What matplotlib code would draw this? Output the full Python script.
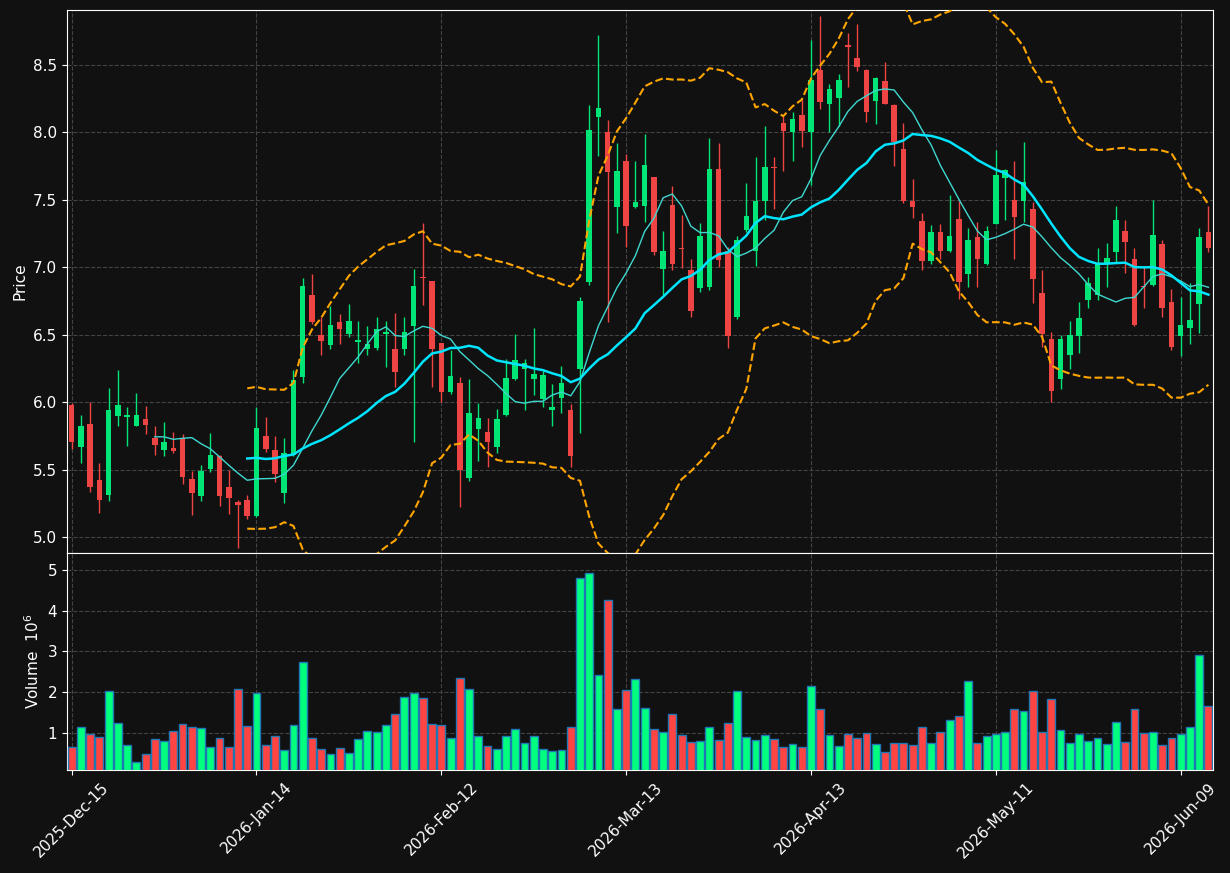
import numpy as np
import pandas as pd
import matplotlib
matplotlib.use("Agg")
import matplotlib.pyplot as plt

# daily OHLC
opens = [5.98, 5.67, 5.84, 5.42, 5.313, 5.90, 5.886, 5.826, 5.876, 5.734,
         5.648, 5.66, 5.737, 5.429, 5.305, 5.505, 5.601, 5.371, 5.26, 5.275,
         5.158, 5.75, 5.646, 5.327, 5.604, 6.188, 6.797, 6.498, 6.421, 6.597,
         6.507, 6.448, 6.396, 6.401, 6.507, 6.394, 6.394, 6.564, 6.928, 6.899,
         6.438, 6.074, 6.141, 5.438, 5.802, 5.777, 5.668, 5.906, 6.173, 6.248,
         6.173, 6.025, 5.943, 6.032, 5.941, 6.248, 6.892, 8.117, 8.003, 7.449,
         7.788, 7.449, 7.456, 7.669, 6.989, 7.461, 7.142, 6.979, 6.848, 6.852,
         7.729, 7.118, 6.631, 7.278, 7.118, 7.493, 7.744, 8.067, 8.0, 8.129,
         8.005, 8.463, 8.213, 8.257, 8.651, 8.552, 8.463, 8.235, 8.381, 8.203,
         7.876, 7.49, 7.342, 7.047, 7.262, 7.123, 7.358, 6.953, 7.225, 7.025,
         7.321, 7.664, 7.499, 7.494, 7.432, 6.81, 6.469, 6.173, 6.346, 6.488,
         6.755, 6.792, 7.025, 7.111, 7.272, 7.064, 6.864, 6.866, 7.176, 6.745,
         6.488, 6.547, 6.725, 7.265]
highs = [5.99, 5.903, 6.0, 5.546, 6.104, 6.238, 5.963, 6.067, 5.97, 5.821,
         5.851, 5.777, 5.762, 5.486, 5.531, 5.77, 5.61, 5.498, 5.275, 5.31,
         5.965, 5.891, 5.748, 5.733, 6.24, 6.921, 6.95, 6.629, 6.715, 6.653,
         6.725, 6.599, 6.562, 6.629, 6.599, 6.658, 6.629, 6.99, 7.327, 6.90,
         6.44, 6.389, 6.188, 6.173, 5.993, 5.879, 5.946, 6.317, 6.502, 6.317,
         6.547, 6.23, 6.131, 6.265, 5.988, 6.777, 8.201, 8.723, 8.092, 7.919,
         7.837, 7.785, 7.986, 7.67, 7.268, 7.602, 7.385, 7.065, 7.325, 7.956,
         7.919, 7.15, 7.23, 7.623, 7.815, 8.05, 7.815, 8.12, 8.15, 8.24,
         8.686, 8.864, 8.359, 8.433, 8.735, 8.802, 8.47, 8.41, 8.52, 8.21,
         8.072, 7.656, 7.403, 7.312, 7.319, 7.533, 7.491, 7.289, 7.333, 7.309,
         7.869, 7.73, 7.788, 7.926, 7.486, 6.978, 6.523, 6.494, 6.6, 6.743,
         6.928, 7.144, 7.183, 7.455, 7.351, 7.144, 7.0, 7.5, 7.203, 6.842,
         6.782, 6.884, 7.292, 7.455]
lows = [5.65, 5.55, 5.335, 5.18, 5.27, 5.821, 5.677, 5.826, 5.762, 5.605,
        5.598, 5.62, 5.39, 5.159, 5.268, 5.478, 5.23, 5.168, 4.916, 5.13,
        5.15, 5.629, 5.411, 5.255, 5.60, 6.139, 6.58, 6.349, 6.391, 6.431,
        6.48, 6.287, 6.347, 6.389, 6.262, 6.109, 6.347, 5.705, 6.718, 6.114,
        6.002, 6.057, 5.225, 5.418, 5.564, 5.515, 5.619, 5.90, 6.163, 5.943,
        6.054, 5.96, 5.824, 5.916, 5.52, 5.772, 6.872, 7.822, 6.595, 7.251,
        7.152, 7.436, 7.337, 7.09, 6.793, 6.979, 6.991, 6.628, 6.818, 6.83,
        7.0, 6.404, 6.62, 7.26, 7.007, 7.352, 7.431, 7.717, 7.786, 7.894,
        7.609, 8.173, 8.0, 8.05, 8.334, 8.458, 8.079, 8.062, 8.21, 7.752,
        7.478, 7.369, 6.978, 7.027, 7.059, 7.111, 6.763, 6.857, 6.857, 7.02,
        7.32, 7.351, 7.059, 7.338, 6.738, 6.407, 6.0, 6.096, 6.247, 6.364,
        6.698, 6.755, 6.854, 7.032, 6.958, 6.567, 6.698, 6.86, 6.634, 6.386,
        6.342, 6.431, 6.512, 7.116]
closes = [5.707, 5.824, 5.372, 5.275, 5.943, 5.98, 5.906, 5.906, 5.831, 5.682,
          5.705, 5.638, 5.447, 5.328, 5.489, 5.606, 5.307, 5.285, 5.24, 5.158,
          5.809, 5.653, 5.47, 5.624, 6.166, 6.864, 6.597, 6.45, 6.574, 6.545,
          6.601, 6.46, 6.428, 6.542, 6.52, 6.223, 6.52, 6.861, 6.921, 6.394,
          6.074, 6.193, 5.498, 5.918, 5.881, 5.705, 5.874, 6.178, 6.312, 6.287,
          6.208, 6.20, 5.963, 6.141, 5.601, 6.75, 8.018, 8.181, 7.709, 7.713,
          7.308, 7.483, 7.758, 7.115, 7.12, 7.028, 7.135, 6.677, 7.231, 7.729,
          7.057, 6.49, 7.204, 7.382, 7.493, 7.744, 7.736, 8.012, 8.1, 8.012,
          8.389, 8.228, 8.322, 8.389, 8.631, 8.488, 8.153, 8.403, 8.213, 7.931,
          7.493, 7.448, 7.047, 7.262, 7.123, 7.232, 6.894, 7.202, 7.064, 7.269,
          7.684, 7.721, 7.373, 7.632, 6.914, 6.506, 6.079, 6.469, 6.499, 6.626,
          6.886, 7.032, 7.069, 7.347, 7.186, 6.574, 6.854, 7.243, 6.696, 6.406,
          6.574, 6.611, 7.228, 7.141]
# volume in millions
volumes = [0.655, 1.146, 0.974, 0.90, 2.03, 1.244, 0.70, 0.286, 0.48, 0.85,
           0.80, 1.05, 1.22, 1.146, 1.12, 0.655, 0.875, 0.655, 2.08, 1.17,
           1.98, 0.70, 0.925, 0.58, 1.19, 2.74, 0.875, 0.61, 0.48, 0.63,
           0.51, 0.85, 1.05, 1.02, 1.19, 1.46, 1.88, 1.98, 1.86, 1.22,
           1.19, 0.875, 2.35, 2.08, 0.925, 0.68, 0.61, 0.925, 1.10, 0.75,
           0.925, 0.61, 0.56, 0.58, 1.146, 4.80, 4.93, 2.42, 4.26, 1.59,
           2.05, 2.32, 1.61, 1.10, 1.02, 1.46, 0.95, 0.78, 0.80, 1.146,
           0.83, 1.244, 2.03, 0.90, 0.83, 0.95, 0.85, 0.655, 0.73, 0.655,
           2.15, 1.59, 0.95, 0.68, 0.974, 0.875, 1.0, 0.73, 0.53, 0.75,
           0.75, 0.70, 1.146, 0.75, 1.02, 1.32, 1.42, 2.27, 0.75, 0.925,
           0.974, 1.02, 1.59, 1.54, 2.03, 1.02, 1.83, 1.07, 0.75, 0.974,
           0.80, 0.875, 0.73, 1.27, 0.78, 1.59, 1.0, 1.02, 0.70, 0.875,
           0.974, 1.146, 2.91, 1.66]

holidays = ["2025-12-25", "2026-01-01", "2026-01-19", "2026-02-16", "2026-04-03", "2026-05-25"]
dates = pd.bdate_range("2025-12-15", periods=len(closes), freq="C", holidays=holidays)

bg = "#111111"
up_c, down_c = "#00e676", "#ef4444"
vol_up, vol_down = "#00ff7f", "#ff4444"

df = pd.DataFrame({"o": opens, "h": highs, "l": lows, "c": closes, "v": volumes})
x = np.arange(len(df))
ma10 = df["c"].rolling(10).mean()
ma20 = df["c"].rolling(20).mean()
sd20 = df["c"].rolling(20).std(ddof=0)
upper = ma20 + 2 * sd20
lower = ma20 - 2 * sd20
is_up = df["c"] >= df["o"]

fig = plt.figure(figsize=(12.3, 8.73), dpi=100, facecolor=bg)
ax = fig.add_axes([0.0545, 0.3666, 0.9317, 0.6219])
axv = fig.add_axes([0.0545, 0.118, 0.9317, 0.2486], sharex=ax)

for a in (ax, axv):
    a.set_facecolor(bg)
    for s in a.spines.values():
        s.set_color("white")
    a.tick_params(colors="white", labelsize=11)
    a.grid(True, color="#444444", linestyle="--", linewidth=0.8)
    a.set_axisbelow(True)

# candles
cols = [up_c if u else down_c for u in is_up]
ax.vlines(x, df["l"], df["h"], colors=cols, linewidth=1, zorder=2)
body = np.maximum((df["c"] - df["o"]).abs(), 0.006)
ax.bar(x, body, bottom=np.minimum(df["o"], df["c"]), width=0.6, color=cols, zorder=3)

ax.plot(x, ma10, color="#3fd8d0", linewidth=1, zorder=4)
ax.plot(x, ma20, color="#00e5ff", linewidth=1.8, zorder=4)
ax.plot(x, upper, color="orange", linestyle="--", linewidth=1.5, zorder=4)
ax.plot(x, lower, color="orange", linestyle="--", linewidth=1.5, zorder=4)

ax.set_ylim(4.881, 8.908)
ax.set_yticks(np.arange(5.0, 8.51, 0.5))
ax.set_ylabel("Price", color="white", fontsize=11)
plt.setp(ax.get_xticklabels(), visible=False)

# volume
vcols = [vol_up if u else vol_down for u in is_up]
axv.bar(x, df["v"], width=0.85, color=vcols, edgecolor="#1f77b4", linewidth=1, zorder=3)
axv.set_ylim(0.09, 5.42)
axv.set_yticks([1, 2, 3, 4, 5])
axv.set_ylabel("Volume  $10^6$", color="white", fontsize=11)

ticks = list(range(0, len(df), 20))
axv.set_xticks(ticks)
axv.set_xticklabels([dates[i].strftime("%Y-%b-%d") for i in ticks], rotation=45)
axv.set_xlim(-0.5, len(df) - 0.5)

fig.savefig("out.png", dpi=100, facecolor=bg)
